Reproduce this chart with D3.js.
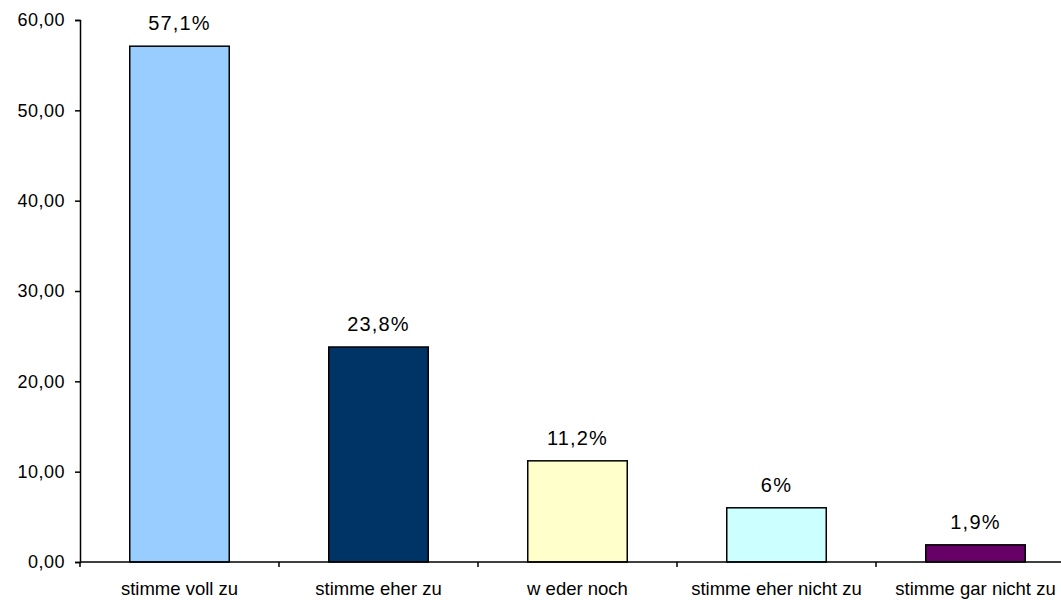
<!DOCTYPE html>
<html>
<head>
<meta charset="utf-8">
<script src="https://cdn.jsdelivr.net/npm/d3@7"></script>
<style>
  body { margin: 0; background: #fff; }
  text { font-family: "Liberation Sans", Arial, sans-serif; fill: #000; }
</style>
</head>
<body>
<script>
// chart data
var categories = ["stimme voll zu", "stimme eher zu", "w eder noch", "stimme eher nicht zu", "stimme gar nicht zu"];
var values = [57.1, 23.8, 11.2, 6, 1.9];
var valueLabels = ["57,1%", "23,8%", "11,2%", "6%", "1,9%"];
var barColors = ["#99ccff", "#003366", "#ffffcc", "#ccffff", "#660066"];
var yTicks = [0, 10, 20, 30, 40, 50, 60];

(function(){

var width = 1061, height = 600;
var left = 80, right = 1075, top = 20, bottom = 562;

var svg = d3.select("body")
    .append("svg")
    .attr("width", width)
    .attr("height", height);

//german number format (comma decimal)
var de = d3.formatLocale({decimal: ",", thousands: ".", grouping: [3], currency: ["", " €"]});
var fmt = de.format(".2f");

var x = d3.scaleBand()
    .domain(categories)
    .range([left, right])
    .paddingInner(0.5)
    .paddingOuter(0.25);

var y = d3.scaleLinear()
    .domain([0, 60])
    .range([bottom, top]);

//bars
svg.selectAll(".bar")
    .data(values)
    .enter()
    .append("rect")
    .attr("class", "bar")
    .attr("x", function(d, i){ return x(categories[i]); })
    .attr("y", function(d){ return y(d); })
    .attr("width", x.bandwidth())
    .attr("height", function(d){ return y(0) - y(d); })
    .attr("fill", function(d, i){ return barColors[i]; })
    .attr("stroke", "#000")
    .attr("stroke-width", 1.5);

//value labels
svg.selectAll(".vlabel")
    .data(values)
    .enter()
    .append("text")
    .attr("class", "vlabel")
    .attr("x", function(d, i){ return x(categories[i]) + x.bandwidth() / 2; })
    .attr("y", function(d){ return y(d) - 16; })
    .attr("text-anchor", "middle")
    .style("font-size", "20px")
    .style("letter-spacing", "1.2px")
    .text(function(d, i){ return valueLabels[i]; });

//y axis
var yAxis = svg.append("g")
    .attr("transform", "translate(" + left + ",0)")
    .call(d3.axisLeft(y).tickValues(yTicks).tickFormat(fmt).tickSize(5).tickPadding(10));
yAxis.selectAll("text")
    .style("font-size", "18px")
    .style("letter-spacing", "0.5px");
yAxis.select(".domain").attr("stroke-width", 1.5);
yAxis.selectAll(".tick line").attr("stroke-width", 1.5);

//x axis: ticks between categories
var xAxis = svg.append("g")
    .attr("transform", "translate(0," + bottom + ")");
xAxis.append("line")
    .attr("x1", left).attr("x2", right)
    .attr("stroke", "#000").attr("stroke-width", 1.5);
var bounds = d3.range(categories.length + 1).map(function(i){ return left + i * x.step(); });
xAxis.selectAll(".xtick")
    .data(bounds)
    .enter()
    .append("line")
    .attr("x1", function(d){ return d; })
    .attr("x2", function(d){ return d; })
    .attr("y1", 0).attr("y2", 5)
    .attr("stroke", "#000").attr("stroke-width", 1.5);
xAxis.selectAll(".xlabel")
    .data(categories)
    .enter()
    .append("text")
    .attr("x", function(d){ return x(d) + x.bandwidth() / 2; })
    .attr("y", 33)
    .attr("text-anchor", "middle")
    .style("font-size", "18.5px")
    .text(function(d){ return d; });

})();
</script>
</body>
</html>
